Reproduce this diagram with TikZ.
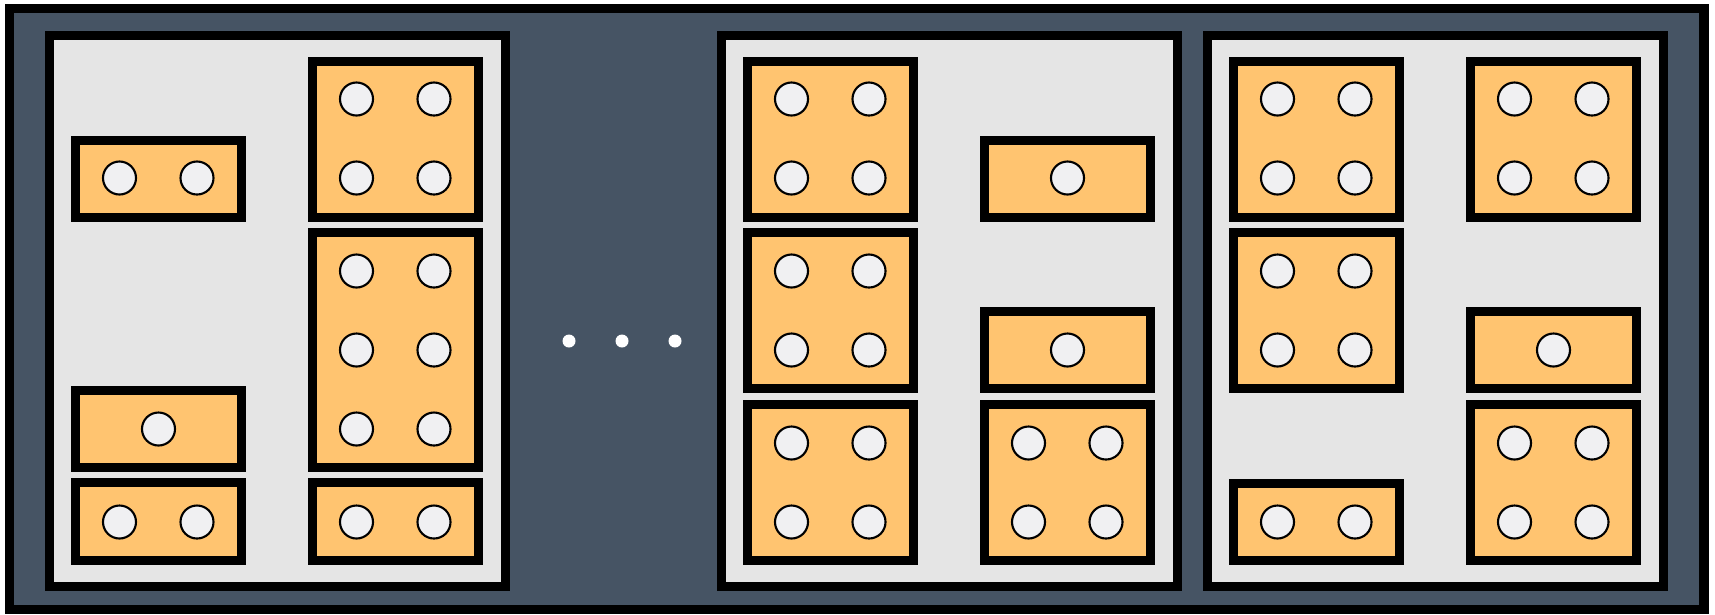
\documentclass[tikz,border=0pt]{standalone}
\definecolor{slate}{RGB}{70,84,100}
\definecolor{binorange}{RGB}{255,196,112}
\definecolor{panelgray}{RGB}{229,229,229}
\definecolor{holegray}{RGB}{240,240,242}

\begin{document}
\begin{tikzpicture}[x=0.01cm, y=-0.01cm,
    panel/.style={draw=black, line width=2.6pt, fill=panelgray},
    slotbox/.style={draw=black, line width=2.6pt, fill=binorange},
    hole/.style={draw=black, line width=0.6pt, fill=holegray},
    gapdot/.style={fill=white}]
  \useasboundingbox (0,0) rectangle (1715,614);
  % frame
  \draw[line width=2.8pt, fill=slate] (9.5,8.5) rectangle (1704,609.5);
  % panels
  \foreach \px in {0,672,1158}
    \draw[panel] (49.5+\px,35.5) rectangle (505.5+\px,586.5);
  % slot: left x, top, bottom, hole x offsets, hole rows
  \newcommand{\slotbox}[5]{%
    \draw[slotbox] (#1+4.5,#2+4.5) rectangle (#1+170.5,#3-4.5);
    \foreach \hx in {#4} \foreach \hy in {#5}
      \draw[hole] (#1+\hx,\hy) circle[radius=0.165cm];}
  % first panel
  \slotbox{71}{136}{222}{48.5,126}{178}
  \slotbox{71}{386}{472}{87.5}{429}
  \slotbox{71}{478}{565}{48.5,126}{522}
  \slotbox{308}{57}{222}{48.5,126}{99,178}
  \slotbox{308}{228}{472}{48.5,126}{271,350,429}
  \slotbox{308}{478}{565}{48.5,126}{522}
  % second panel
  \slotbox{743}{57}{222}{48.5,126}{99,178}
  \slotbox{743}{228}{393}{48.5,126}{271,350}
  \slotbox{743}{400}{565}{48.5,126}{443,522}
  \slotbox{980}{136}{222}{87.5}{178}
  \slotbox{980}{307}{393}{87.5}{350}
  \slotbox{980}{400}{565}{48.5,126}{443,522}
  % third panel
  \slotbox{1229}{57}{222}{48.5,126}{99,178}
  \slotbox{1229}{228}{393}{48.5,126}{271,350}
  \slotbox{1229}{479}{565}{48.5,126}{522}
  \slotbox{1466}{57}{222}{48.5,126}{99,178}
  \slotbox{1466}{307}{393}{87.5}{350}
  \slotbox{1466}{400}{565}{48.5,126}{443,522}
  % dots between panels
  \foreach \dx in {569,622,675}
    \fill[gapdot] (\dx,341) circle[radius=0.065cm];
\end{tikzpicture}
\end{document}
